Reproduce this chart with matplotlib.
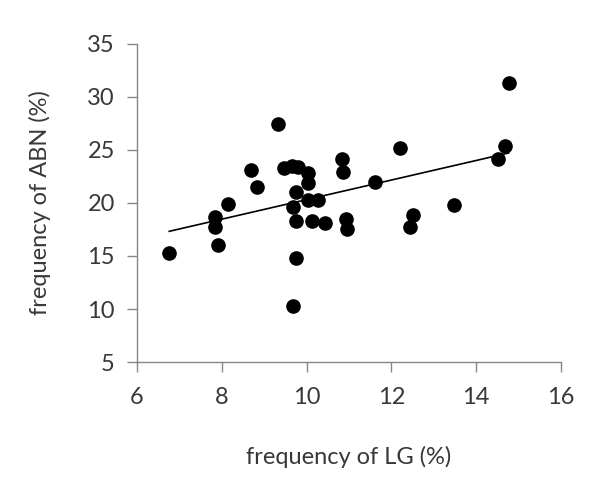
import numpy as np
import matplotlib
matplotlib.use('Agg')
import matplotlib.pyplot as plt

plt.rcParams['font.family'] = ['Lato', 'DejaVu Sans']

# frequency of LG (%)
lg = [6.76, 7.84, 7.84, 7.92, 8.15, 8.68, 8.84, 9.32, 9.47, 9.65, 9.80,
      10.04, 10.04, 9.75, 9.67, 10.04, 10.28, 9.75, 10.12, 10.43, 9.75, 9.67,
      10.84, 10.87, 10.93, 10.96, 11.61, 12.20, 12.44, 12.52, 13.48,
      14.53, 14.68, 14.77]
# frequency of ABN (%)
abn = [15.25, 18.65, 17.76, 16.04, 19.9, 23.1, 21.5, 27.45, 23.3, 23.45, 23.4,
       22.86, 21.9, 21.07, 19.6, 20.28, 20.28, 18.33, 18.33, 18.14, 14.84, 10.31,
       24.12, 22.95, 18.49, 17.55, 22.0, 25.2, 17.7, 18.84, 19.78,
       24.12, 25.38, 31.29]

xticks = [6, 8, 10, 12, 14, 16]
yticks = [5, 10, 15, 20, 25, 30, 35]

fig = plt.figure(figsize=(6.01, 4.98), dpi=100)
ax = fig.add_axes([0.228, 0.273, 0.705, 0.639])

ax.plot(lg, abn, 'o', color='black', markersize=9.5, zorder=3)

# linear trendline over the data range
k, b = np.polyfit(lg, abn, 1)
xl = np.array([min(lg), max(lg)])
ax.plot(xl, k * xl + b, color='black', linewidth=1.2, zorder=2)

ax.set_xlim(6, 16)
ax.set_ylim(5, 35)
ax.set_xticks(xticks)
ax.set_yticks(yticks)

for s in ['top', 'right']:
    ax.spines[s].set_visible(False)
for s in ['left', 'bottom']:
    ax.spines[s].set_color('#868686')
    ax.spines[s].set_linewidth(1.0)
ax.tick_params(direction='out', length=7, width=1.0, color='#868686',
               labelsize=17, labelcolor='#383838')
ax.tick_params(axis='y', pad=9)
ax.tick_params(axis='x', pad=11)

ax.set_xlabel('frequency of LG (%)', fontsize=17, color='#383838', labelpad=27)
ax.set_ylabel('frequency of ABN (%)', fontsize=17, color='#383838', labelpad=26)

fig.savefig('out.png', dpi=100)
